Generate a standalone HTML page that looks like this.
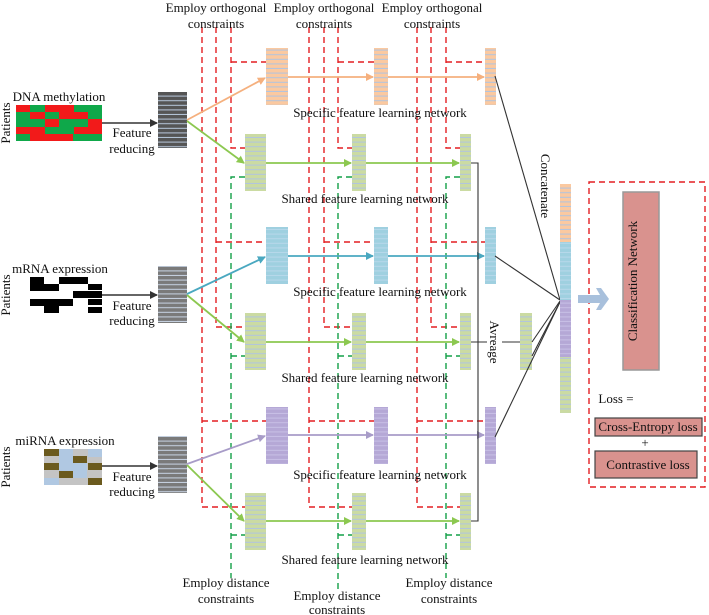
<!DOCTYPE html>
<html><head><meta charset="utf-8"><style>
html,body{margin:0;padding:0;background:#fff;}
svg{display:block;font-family:"Liberation Serif",serif;}
</style></head><body>
<svg width="709" height="615" viewBox="0 0 709 615" xmlns="http://www.w3.org/2000/svg">
<defs>
<pattern id="po" width="10" height="4.6" patternUnits="userSpaceOnUse"><rect width="10" height="4.6" fill="#fbc9a0"/><rect y="3.6" width="10" height="1" fill="#b0c4e0"/></pattern>
<pattern id="pb" width="10" height="4.6" patternUnits="userSpaceOnUse"><rect width="10" height="4.6" fill="#9fd0e0"/><rect y="3.6" width="10" height="1" fill="#b8d8ea"/></pattern>
<pattern id="pp" width="10" height="4.6" patternUnits="userSpaceOnUse"><rect width="10" height="4.6" fill="#b5a8d6"/><rect y="3.6" width="10" height="1" fill="#c8c0e6"/></pattern>
<pattern id="pg" width="10" height="4.6" patternUnits="userSpaceOnUse"><rect width="10" height="4.6" fill="#cbdba2"/><rect y="3.6" width="10" height="1" fill="#b0c4e0"/></pattern>
<pattern id="pk" width="10" height="4.6" patternUnits="userSpaceOnUse"><rect width="10" height="4.6" fill="#555"/><rect y="3.6" width="10" height="1" fill="#b8c8dc"/></pattern>
<pattern id="pk2" width="10" height="4.6" patternUnits="userSpaceOnUse"><rect width="10" height="4.6" fill="#7a7a7a"/><rect y="3.6" width="10" height="1" fill="#c8d4e4"/></pattern>
<marker id="mk" markerWidth="8" markerHeight="8" refX="7" refY="4" orient="auto" markerUnits="userSpaceOnUse"><path d="M0,0L8,4L0,8z" fill="#333"/></marker>
<marker id="mo" markerWidth="8" markerHeight="8" refX="7" refY="4" orient="auto" markerUnits="userSpaceOnUse"><path d="M0,0L8,4L0,8z" fill="#f5b07e"/></marker>
<marker id="mg" markerWidth="8" markerHeight="8" refX="7" refY="4" orient="auto" markerUnits="userSpaceOnUse"><path d="M0,0L8,4L0,8z" fill="#8cc850"/></marker>
<marker id="mb" markerWidth="8" markerHeight="8" refX="7" refY="4" orient="auto" markerUnits="userSpaceOnUse"><path d="M0,0L8,4L0,8z" fill="#4aa8c0"/></marker>
<marker id="mp" markerWidth="8" markerHeight="8" refX="7" refY="4" orient="auto" markerUnits="userSpaceOnUse"><path d="M0,0L8,4L0,8z" fill="#a89cc8"/></marker>
</defs>

<g stroke="#e41e22" stroke-width="1.4" stroke-dasharray="6,4" fill="none">
<path d="M231,27V148H245 M231,62H266"/>
<path d="M216,27V327H245 M216,242H266"/>
<path d="M202,27V507H245 M202,421H266"/>
<path d="M338,27V148H352 M338,62H374"/>
<path d="M324,27V327H352 M324,242H374"/>
<path d="M309,27V507H352 M309,421H374"/>
<path d="M446,27V148H460 M446,62H485"/>
<path d="M431,27V327H460 M431,242H485"/>
<path d="M417,27V507H460 M417,421H485"/>
<rect x="589" y="182" width="116" height="305"/>
</g>
<g stroke="#13a048" stroke-width="1.4" stroke-dasharray="6,4" fill="none">
<path d="M245,177H231V578 M231,356H245 M231,535H245"/>
<path d="M352,177H338V592 M338,356H352 M338,535H352"/>
<path d="M460,177H446V578 M446,356H460 M446,535H460"/>
</g>

<g>
<rect x="16" y="105" width="86" height="36" fill="#0fa84a"/>
<g fill="#f21a1a">
<rect x="16" y="105" width="14" height="7"/><rect x="45" y="105" width="29" height="7"/>
<rect x="30" y="112" width="15" height="7"/><rect x="59" y="112" width="29" height="7"/>
<rect x="45" y="119" width="14" height="8"/><rect x="88" y="119" width="14" height="8"/>
<rect x="16" y="127" width="29" height="7"/><rect x="74" y="127" width="28" height="7"/>
<rect x="30" y="134" width="43" height="7"/>
</g>
<g fill="#000">
<rect x="30" y="277" width="14" height="7"/><rect x="59" y="277" width="29" height="7"/>
<rect x="30" y="284" width="29" height="7"/><rect x="88" y="284" width="14" height="6"/>
<rect x="73" y="291" width="29" height="7"/>
<rect x="30" y="299" width="43" height="7"/><rect x="88" y="299" width="14" height="6"/>
<rect x="44" y="306" width="15" height="7"/><rect x="88" y="307" width="14" height="6"/>
</g>
<rect x="44" y="449" width="58" height="36" fill="#c4c4c4"/>
<rect x="59" y="449" width="14" height="22" fill="#b0c8e2"/><rect x="88" y="449" width="14" height="8" fill="#b0c8e2"/>
<rect x="44" y="478" width="15" height="7" fill="#b0c8e2"/><rect x="73" y="463" width="14" height="15" fill="#b0c8e2"/>
<g fill="#6b5a1e">
<rect x="44" y="449" width="15" height="7"/><rect x="73" y="456" width="14" height="7"/>
<rect x="44" y="463" width="15" height="7"/><rect x="88" y="463" width="14" height="7"/>
<rect x="59" y="471" width="14" height="7"/><rect x="88" y="478" width="14" height="7"/>
</g>
</g>

<rect x="158" y="92" width="29" height="56" fill="url(#pk)"/>
<rect x="158" y="266" width="29" height="57" fill="url(#pk2)"/>
<rect x="158" y="436" width="29" height="57" fill="url(#pk2)"/>

<g stroke="#333" stroke-width="1.5">
<line x1="102" y1="123" x2="157" y2="123" marker-end="url(#mk)"/>
<line x1="102" y1="295" x2="157" y2="295" marker-end="url(#mk)"/>
<line x1="102" y1="466" x2="157" y2="466" marker-end="url(#mk)"/>
</g>

<rect x="266" y="48" width="22" height="57" fill="url(#po)"/>
<rect x="374" y="48" width="14" height="57" fill="url(#po)"/>
<rect x="485" y="48" width="11" height="57" fill="url(#po)"/>
<rect x="266" y="227" width="22" height="57" fill="url(#pb)"/>
<rect x="374" y="227" width="14" height="57" fill="url(#pb)"/>
<rect x="485" y="227" width="11" height="57" fill="url(#pb)"/>
<rect x="266" y="407" width="22" height="57" fill="url(#pp)"/>
<rect x="374" y="407" width="14" height="57" fill="url(#pp)"/>
<rect x="485" y="407" width="11" height="57" fill="url(#pp)"/>
<g fill="url(#pg)">
<rect x="245" y="134" width="21" height="57"/><rect x="352" y="134" width="14" height="57"/><rect x="460" y="134" width="11" height="57"/>
<rect x="245" y="313" width="21" height="57"/><rect x="352" y="313" width="14" height="57"/><rect x="460" y="313" width="11" height="57"/>
<rect x="245" y="493" width="21" height="57"/><rect x="352" y="493" width="14" height="57"/><rect x="460" y="493" width="11" height="57"/>
<rect x="520" y="313" width="12" height="57"/>
</g>

<g stroke-width="1.8" fill="none">
<g stroke="#f5b07e"><line x1="187" y1="120" x2="265" y2="78" marker-end="url(#mo)"/><line x1="288" y1="77" x2="373" y2="77" marker-end="url(#mo)"/><line x1="388" y1="77" x2="484" y2="77" marker-end="url(#mo)"/></g>
<g stroke="#8cc850"><line x1="187" y1="121" x2="244" y2="163" marker-end="url(#mg)"/><line x1="266" y1="163" x2="351" y2="163" marker-end="url(#mg)"/><line x1="366" y1="163" x2="459" y2="163" marker-end="url(#mg)"/>
<line x1="187" y1="295" x2="244" y2="342" marker-end="url(#mg)"/><line x1="266" y1="342" x2="351" y2="342" marker-end="url(#mg)"/><line x1="366" y1="342" x2="459" y2="342" marker-end="url(#mg)"/>
<line x1="187" y1="465" x2="244" y2="521" marker-end="url(#mg)"/><line x1="266" y1="521" x2="351" y2="521" marker-end="url(#mg)"/><line x1="366" y1="521" x2="459" y2="521" marker-end="url(#mg)"/></g>
<g stroke="#4aa8c0"><line x1="187" y1="294" x2="265" y2="257" marker-end="url(#mb)"/><line x1="288" y1="256" x2="373" y2="256" marker-end="url(#mb)"/><line x1="388" y1="256" x2="484" y2="256" marker-end="url(#mb)"/></g>
<g stroke="#a89cc8"><line x1="187" y1="464" x2="265" y2="436" marker-end="url(#mp)"/><line x1="288" y1="435" x2="373" y2="435" marker-end="url(#mp)"/><line x1="388" y1="435" x2="484" y2="435" marker-end="url(#mp)"/></g>
</g>

<g stroke="#333" stroke-width="1.1" fill="none">
<path d="M471,163H478V521H471"/>
<path d="M471,342H487 M502,342H520"/>
<line x1="495" y1="76" x2="560" y2="300"/>
<line x1="495" y1="256" x2="560" y2="300"/>
<line x1="532" y1="342" x2="560" y2="301"/>
<line x1="532" y1="356" x2="560" y2="302"/>
<line x1="495" y1="437" x2="560" y2="302"/>
</g>

<rect x="560" y="184" width="11" height="58" fill="url(#po)"/>
<rect x="560" y="242" width="11" height="58" fill="url(#pb)"/>
<rect x="560" y="300" width="11" height="57" fill="url(#pp)"/>
<rect x="560" y="357" width="11" height="56" fill="url(#pg)"/>

<path d="M578,295H600L596,288H601L609,299L601,310H596L600,303H578z" fill="#a8c0dc"/>

<rect x="623" y="192" width="36" height="178" fill="#d9928e" stroke="#999" stroke-width="1.5"/>
<rect x="595" y="418" width="107" height="18" fill="#d9928e" stroke="#444" stroke-width="1.2"/>
<rect x="595" y="451" width="102" height="27" fill="#d9928e" stroke="#444" stroke-width="1.2"/>

<g font-size="13" fill="#111" text-anchor="middle">
<text x="216" y="12">Employ orthogonal</text><text x="216" y="28">constraints</text>
<text x="324" y="12">Employ orthogonal</text><text x="324" y="28">constraints</text>
<text x="432" y="12">Employ orthogonal</text><text x="432" y="28">constraints</text>
<text x="226" y="587">Employ distance</text><text x="226" y="603">constraints</text>
<text x="337" y="600">Employ distance</text><text x="337" y="614">constraints</text>
<text x="449" y="587">Employ distance</text><text x="449" y="603">constraints</text>
<text x="380" y="117">Specific feature learning network</text>
<text x="365" y="203">Shared feature learning network</text>
<text x="380" y="296">Specific feature learning network</text>
<text x="365" y="382">Shared feature learning network</text>
<text x="380" y="479">Specific feature learning network</text>
<text x="365" y="564">Shared feature learning network</text>
<text x="132" y="137">Feature</text><text x="132" y="153">reducing</text>
<text x="132" y="310">Feature</text><text x="132" y="325">reducing</text>
<text x="132" y="481">Feature</text><text x="132" y="496">reducing</text>
<text x="648" y="469">Contrastive loss</text>
<text x="648" y="431">Cross-Entropy loss</text>
<text x="645" y="447">+</text>
<text x="59" y="101">DNA methylation</text>
<text x="60" y="273">mRNA expression</text>
<text x="65" y="445">miRNA expression</text>
<text x="616" y="403">Loss =</text>
<text transform="translate(10,123) rotate(-90)">Patients</text>
<text transform="translate(10,295) rotate(-90)">Patients</text>
<text transform="translate(10,467) rotate(-90)">Patients</text>
<text transform="translate(637,281) rotate(-90)">Classification Network</text>
<text transform="translate(541,186) rotate(90)">Concatenate</text>
<text transform="translate(490,342) rotate(90)">Avreage</text>
</g>
</svg>
</body></html>
